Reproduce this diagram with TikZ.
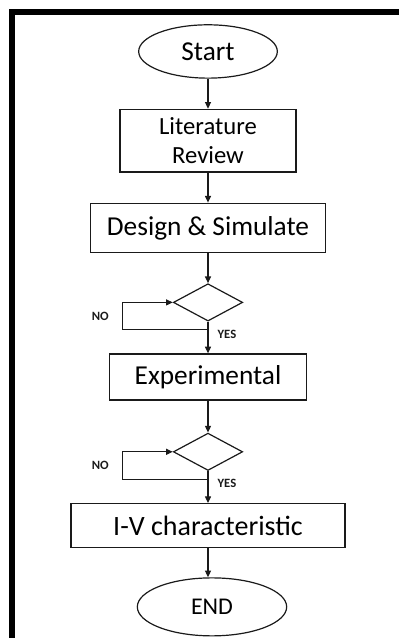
\documentclass[tikz,border=0pt]{standalone}
\usepackage{fontspec}
\setmainfont{Carlito}
\usetikzlibrary{positioning,arrows.meta,shapes.geometric}
\definecolor{ink}{HTML}{1A1A1A}
\tikzset{
  box/.style={draw=ink, line width=0.9pt, fill=white, align=center, inner sep=2pt, text=black},
  term/.style={ellipse, draw=ink, line width=0.9pt, fill=white, inner sep=1pt, text=black},
  dec/.style={diamond, draw=ink, line width=0.9pt, fill=white, inner sep=0pt,
    minimum width=52pt, minimum height=28pt},
  arr/.style={-{Triangle[length=5pt,width=4.5pt]}, line width=0.8pt, color=ink},
  lab/.style={font=\fontsize{9.5pt}{11pt}\selectfont\bfseries, text=ink, inner sep=1pt},
}

\begin{document}
\begin{tikzpicture}[font=\fontsize{20.5pt}{24pt}\selectfont]
    \useasboundingbox (0,0) rectangle (300pt,-478.5pt);
    % frame
    \fill (6.75pt,-6.75pt) rectangle (299pt,-11.25pt);
    \fill (6.75pt,-6.75pt) rectangle (11.25pt,-478.5pt);
    % steps
    \node[term, minimum width=104pt, minimum height=40pt] (start) at (156pt,-38.6pt) {Start};
    \node[box, minimum width=132pt, minimum height=47pt, font=\fontsize{18.5pt}{22pt}\selectfont,
      below=22.5pt of start] (lit) {Literature\\Review};
    \node[box, minimum width=176pt, minimum height=37pt, below=22.5pt of lit] (des) {Design \& Simulate};
    \node[dec, below=22.5pt of des] (d1) {};
    \node[box, minimum width=148pt, minimum height=34.5pt, below=23.75pt of d1] (exp) {Experimental};
    \node[dec, below=24pt of exp] (d2) {};
    \node[box, minimum width=205.5pt, minimum height=33pt, font=\fontsize{21pt}{24pt}\selectfont,
      below=24pt of d2] (iv) {I-V characteristic};
    \node[term, minimum width=112pt, minimum height=43.5pt, font=\fontsize{18pt}{22pt}\selectfont,
      below=21.75pt of iv, xshift=3pt] (end) {END};
    \foreach \i/\j in {start/lit,lit/des,des/d1,d1/exp,exp/d2,d2/iv} \draw[arr] (\i) -- (\j);
    \draw[arr] (iv.south) -- (iv.south |- end.north);
    % loops back to the checks
    \coordinate[below=6pt of d1] (n1);
    \coordinate[below=6pt of d2] (n2);
    \draw[arr] (n1) -- ++(-64pt,0) |- node[lab, pos=0.25, left=9pt] (no1) {NO} (d1.west);
    \draw[arr] (n2) -- ++(-64pt,0) |- node[lab, pos=0.25, left=9pt] (no2) {NO} (d2.west);
    \node[lab, below right=-1pt and 6pt of n1] (yes1) {YES};
    \node[lab, below right=-1pt and 6pt of n2] (yes2) {YES};
  \end{tikzpicture}
\end{document}
